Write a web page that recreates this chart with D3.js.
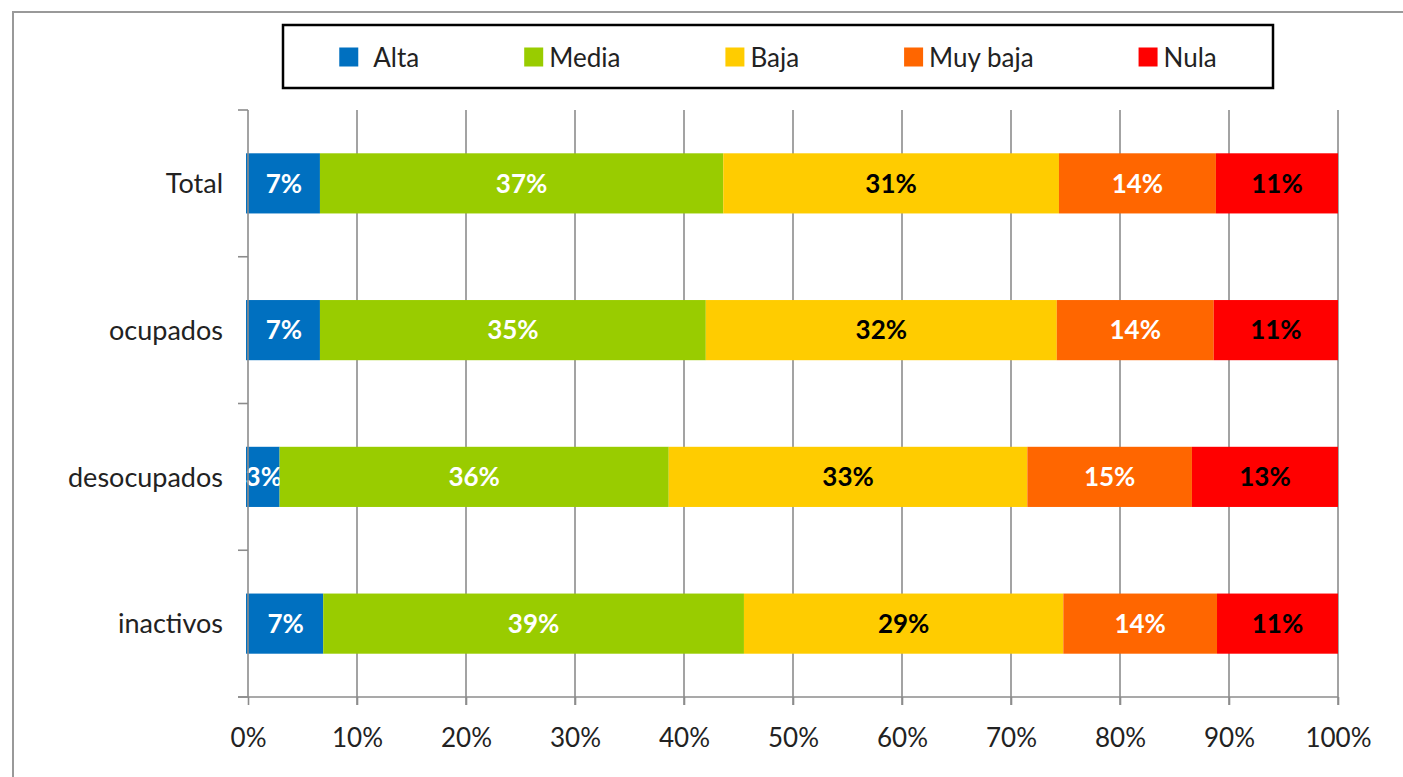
<!DOCTYPE html>
<html>
<head>
<meta charset="utf-8">
<script src="https://cdn.jsdelivr.net/npm/d3@7"></script>
<style>
    body { margin: 0; background: #fff; }
    text { font-family: Lato, 'Liberation Sans', sans-serif; }
</style>
</head>
<body>
<svg id="canvas"></svg>
<script>
// chart data
var categories = ['Total', 'ocupados', 'desocupados', 'inactivos'];
var series = ['Alta', 'Media', 'Baja', 'Muy baja', 'Nula'];
var alta = [6.6, 6.6, 2.9, 6.9];
var media = [37.0, 35.4, 35.7, 38.6];
var baja = [30.8, 32.2, 32.9, 29.3];
var muyBaja = [14.4, 14.4, 15.1, 14.1];
var nula = [11.2, 11.4, 13.4, 11.1];
var xTicks = [0, 10, 20, 30, 40, 50, 60, 70, 80, 90, 100];

// colours per series
var colors = ['#0070C0', '#99CC00', '#FFCC00', '#FF6600', '#FF0000'];
var labelColors = ['#fff', '#fff', '#000', '#fff', '#000'];

var chartWidth = 1403, chartHeight = 777;
var fontSize = 26;

// build rows for d3.stack
var rows = categories.map(function (c, i) {
    return { cat: c, 'Alta': alta[i], 'Media': media[i], 'Baja': baja[i], 'Muy baja': muyBaja[i], 'Nula': nula[i] };
});
var stacked = d3.stack().keys(series)(rows);

var svg = d3.select('#canvas')
    .attr('width', chartWidth)
    .attr('height', chartHeight);

// outer frame
svg.append('rect')
    .attr('x', 13).attr('y', 12)
    .attr('width', chartWidth).attr('height', chartHeight)
    .attr('fill', 'none')
    .attr('stroke', '#999')
    .attr('stroke-width', 2);

var xScale = d3.scaleLinear()
    .domain([0, 100])
    .range([248, 1338]);

var yScale = d3.scaleBand()
    .domain(categories)
    .range([110, 697])
    .paddingInner(0.59)
    .paddingOuter(0.295);

var plotTop = yScale.range()[0], plotBottom = yScale.range()[1];

// vertical gridlines (behind the bars)
svg.append('g')
    .selectAll('line')
    .data(xTicks.slice(1))
    .enter()
    .append('line')
    .attr('x1', function (d) { return xScale(d); })
    .attr('x2', function (d) { return xScale(d); })
    .attr('y1', plotTop)
    .attr('y2', plotBottom + 8)
    .attr('stroke', '#8c8c8c')
    .attr('stroke-width', 1.6);

// stacked bars
var layers = svg.selectAll('g.layer')
    .data(stacked)
    .enter()
    .append('g')
    .attr('class', 'layer')
    .attr('fill', function (d, i) { return colors[i]; });

layers.selectAll('rect')
    .data(function (d) { return d; })
    .enter()
    .append('rect')
    .attr('x', function (d) { return xScale(d[0]) - (d[0] === 0 ? 2 : 0); })
    .attr('y', function (d) { return yScale(d.data.cat); })
    .attr('width', function (d) { return xScale(d[1]) - xScale(d[0]) + (d[0] === 0 ? 2 : 0); })
    .attr('height', yScale.bandwidth());

// value labels inside segments
layers.selectAll('text')
    .data(function (d, i) { return d.map(function (p) { p.idx = i; return p; }); })
    .enter()
    .append('text')
    .attr('x', function (d) { return (xScale(d[0]) + xScale(d[1])) / 2; })
    .attr('y', function (d) { return yScale(d.data.cat) + yScale.bandwidth() / 2; })
    .attr('dy', '0.36em')
    .attr('text-anchor', 'middle')
    .attr('font-size', fontSize)
    .attr('font-weight', 'bold')
    .attr('fill', function (d) { return labelColors[d.idx]; })
    .text(function (d) { return Math.round(d[1] - d[0]) + '%'; });

// y axis line with ticks between categories
var yAxis = svg.append('g').attr('stroke', '#8c8c8c').attr('stroke-width', 1.6);
yAxis.append('line')
    .attr('x1', xScale(0)).attr('x2', xScale(0))
    .attr('y1', plotTop).attr('y2', plotBottom);
var edges = categories.map(function (c) { return yScale(c) - yScale.step() * yScale.paddingInner() / 2; });
edges[0] = plotTop;
edges.push(plotBottom);
yAxis.selectAll('line.tick')
    .data(edges)
    .enter()
    .append('line')
    .attr('class', 'tick')
    .attr('x1', xScale(0) - 10).attr('x2', xScale(0))
    .attr('y1', function (d) { return d; })
    .attr('y2', function (d) { return d; });

// x axis
var xAxis = svg.append('g')
    .attr('transform', 'translate(0,' + plotBottom + ')')
    .call(d3.axisBottom(xScale)
        .tickValues(xTicks)
        .tickFormat(function (d) { return d + '%'; })
        .tickSize(8)
        .tickSizeOuter(0)
        .tickPadding(24));
xAxis.select('.domain')
    .attr('d', 'M' + (xScale(0) - 10) + ',0H' + xScale(100))
    .attr('stroke', '#8c8c8c')
    .attr('stroke-width', 1.6);
xAxis.selectAll('.tick line')
    .attr('stroke', '#8c8c8c')
    .attr('stroke-width', 1.6);
xAxis.selectAll('.tick text')
    .attr('font-size', fontSize)
    .attr('font-family', null)
    .attr('fill', '#222');

// category labels
svg.append('g')
    .selectAll('text')
    .data(categories)
    .enter()
    .append('text')
    .attr('x', 223)
    .attr('y', function (d) { return yScale(d) + yScale.bandwidth() / 2; })
    .attr('dy', '0.36em')
    .attr('text-anchor', 'end')
    .attr('font-size', 27)
    .attr('fill', '#222')
    .text(function (d) { return d; });

// legend box
var legendBox = { x: 283, y: 25, w: 990, h: 63 };
svg.append('rect')
    .attr('x', legendBox.x).attr('y', legendBox.y)
    .attr('width', legendBox.w).attr('height', legendBox.h)
    .attr('fill', '#fff')
    .attr('stroke', '#000')
    .attr('stroke-width', 2.5);

var legend = svg.append('g');
var items = legend.selectAll('g')
    .data(series)
    .enter()
    .append('g');
items.append('rect')
    .attr('width', 19).attr('height', 19)
    .attr('y', -10)
    .attr('fill', function (d, i) { return colors[i]; });
items.append('text')
    .attr('x', function (d, i) { return i === 0 ? 34 : 25; })
    .attr('dy', '0.36em')
    .attr('font-size', fontSize)
    .attr('fill', '#222')
    .text(function (d) { return d; });

// lay items out with equal gaps, centered in the box
var gap = 105, widths = [], total = 0;
items.each(function () {
    var w = this.getBBox().width;
    widths.push(w);
    total += w;
});
total += gap * (series.length - 1);
var cx = legendBox.x + (legendBox.w - total) / 2;
items.attr('transform', function (d, i) {
    var pos = cx;
    cx += widths[i] + gap;
    return 'translate(' + pos + ',' + (legendBox.y + legendBox.h / 2 + 1) + ')';
});
</script>
</body>
</html>
